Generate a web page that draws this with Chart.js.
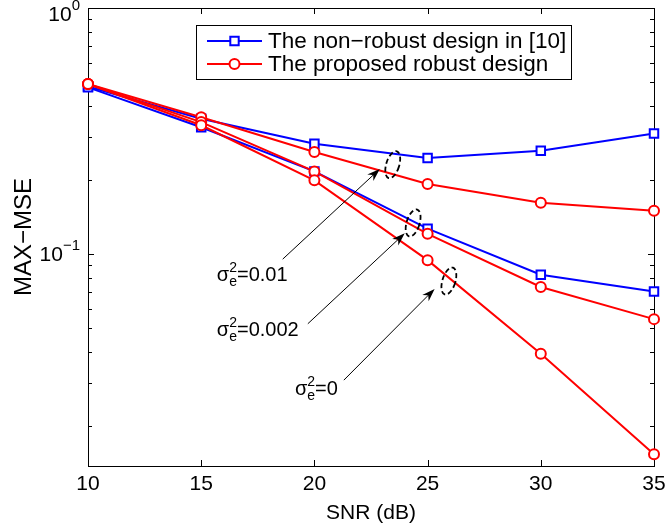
<!DOCTYPE html>
<html>
<head>
<meta charset="utf-8">
<script src="https://cdn.jsdelivr.net/npm/chart.js@4.4.1/dist/chart.umd.min.js"></script>
<style>
  html, body { margin: 0; padding: 0; background: #fff; }
</style>
</head>
<body>
<canvas id="chart" width="668" height="531"></canvas>
<script>
// values (MAX-MSE vs SNR)
const snr = [10, 15, 20, 25, 30, 35]
const nonRobust001 = [0.48, 0.355, 0.281, 0.246, 0.263, 0.309]
const nonRobust0002 = [0.476, 0.328, 0.217, 0.127, 0.0825, 0.0705]
const robust001 = [0.491, 0.36, 0.26, 0.193, 0.162, 0.15]
const robust0002 = [0.491, 0.344, 0.217, 0.121, 0.0736, 0.0545]
const robust0 = [0.491, 0.334, 0.1995, 0.0946, 0.0394, 0.0154]

const xTicks = [10, 15, 20, 25, 30, 35]
const yMajorTicks = [1, 0.1]
const yMajorExp = ['0', '\u22121']
const yMinorTicks = [0.9, 0.8, 0.7, 0.6, 0.5, 0.4, 0.3, 0.2, 0.09, 0.08, 0.07, 0.06, 0.05, 0.04, 0.03, 0.02]

const legendLabels = ['The non\u2212robust design in [10]', 'The proposed robust design']

// sigma_e^2 callouts, in data coordinates
const notes = [
  { value: '0.01', text: [15.69, 0.0778], from: [18.6, 0.0955], to: [22.89, 0.222], ring: [23.46, 0.231] },
  { value: '0.002', text: [15.69, 0.0467], from: [19.71, 0.0522], to: [23.99, 0.1216], ring: [24.36, 0.134] },
  { value: '0', text: [19.14, 0.0268], from: [21.3, 0.0308], to: [25.31, 0.0723], ring: [25.94, 0.0778] }
]

const FONT = '"Liberation Sans", Arial, sans-serif'
const BLUE = '#0000ff'
const RED = '#ff0000'

const toPoints = (vals) => vals.map((v, i) => ({ x: snr[i], y: v }))

function series(vals, color, style) {
  return {
    data: toPoints(vals),
    borderColor: color,
    backgroundColor: '#fff',
    borderWidth: 2,
    pointStyle: style,
    pointRadius: style === 'rect' ? 6 : 5,
    pointBorderWidth: 2,
    pointBackgroundColor: '#fff',
    pointBorderColor: color,
    tension: 0,
    clip: false
  }
}

function drawMarker(ctx, style, x, y, color) {
  ctx.save()
  ctx.fillStyle = '#fff'
  ctx.strokeStyle = color
  ctx.lineWidth = 2
  ctx.beginPath()
  if (style === 'rect') {
    ctx.rect(x - 4.2, y - 4.2, 8.4, 8.4)
  } else {
    ctx.arc(x, y, 5, 0, Math.PI * 2)
  }
  ctx.fill()
  ctx.stroke()
  ctx.restore()
}

function drawArrow(ctx, x1, y1, x2, y2) {
  const a = Math.atan2(y2 - y1, x2 - x1)
  const c = Math.cos(a), s = Math.sin(a)
  ctx.beginPath()
  ctx.moveTo(x1, y1)
  ctx.lineTo(x2 - 8 * c, y2 - 8 * s)
  ctx.stroke()
  ctx.beginPath()
  ctx.moveTo(x2, y2)
  ctx.lineTo(x2 - 13 * c + 4.5 * s, y2 - 13 * s - 4.5 * c)
  ctx.lineTo(x2 - 9 * c, y2 - 9 * s)
  ctx.lineTo(x2 - 13 * c - 4.5 * s, y2 - 13 * s + 4.5 * c)
  ctx.closePath()
  ctx.fill()
}

// axes box, inward ticks and tick labels (matlab style)
const axesBox = {
  id: 'axesBox',
  beforeDatasetsDraw(chart) {
    const { ctx, chartArea: a, scales: { x, y } } = chart
    ctx.save()
    ctx.strokeStyle = '#000'
    ctx.lineWidth = 1
    ctx.strokeRect(a.left + 0.5, a.top + 0.5, a.right - a.left, a.bottom - a.top)

    ctx.beginPath()
    xTicks.forEach(t => {
      const px = Math.round(x.getPixelForValue(t)) + 0.5
      ctx.moveTo(px, a.bottom); ctx.lineTo(px, a.bottom - 6)
      ctx.moveTo(px, a.top); ctx.lineTo(px, a.top + 6)
    })
    yMajorTicks.forEach(t => {
      const py = Math.round(y.getPixelForValue(t)) + 0.5
      ctx.moveTo(a.left, py); ctx.lineTo(a.left + 6, py)
      ctx.moveTo(a.right, py); ctx.lineTo(a.right - 6, py)
    })
    yMinorTicks.forEach(t => {
      const py = Math.round(y.getPixelForValue(t)) + 0.5
      ctx.moveTo(a.left, py); ctx.lineTo(a.left + 4, py)
      ctx.moveTo(a.right, py); ctx.lineTo(a.right - 4, py)
    })
    ctx.stroke()

    ctx.fillStyle = '#000'
    ctx.font = '21px ' + FONT
    ctx.textAlign = 'center'
    ctx.textBaseline = 'middle'
    xTicks.forEach(t => ctx.fillText(String(t), x.getPixelForValue(t), a.bottom + 18))

    yMajorTicks.forEach((t, i) => {
      const py = Math.max(y.getPixelForValue(t) + 1, 15)
      ctx.font = '15px ' + FONT
      const supW = ctx.measureText(yMajorExp[i]).width
      ctx.textAlign = 'left'
      ctx.fillText(yMajorExp[i], a.left - 8 - supW, py - 9)
      ctx.font = '21px ' + FONT
      ctx.textAlign = 'right'
      ctx.fillText('10', a.left - 8 - supW, py)
    })

    ctx.font = '21px ' + FONT
    ctx.textAlign = 'center'
    ctx.fillText('SNR (dB)', (a.left + a.right) / 2, 513)
    ctx.font = '24px ' + FONT
    ctx.translate(24, (a.top + a.bottom) / 2)
    ctx.rotate(-Math.PI / 2)
    ctx.fillText('MAX\u2212MSE', 0, 0)
    ctx.restore()
  },
  afterDatasetsDraw(chart) {
    const { ctx, scales: { x, y } } = chart
    ctx.save()
    ctx.strokeStyle = '#000'
    ctx.fillStyle = '#000'

    notes.forEach(n => {
      // dashed ring round the curves
      ctx.save()
      ctx.lineWidth = 1.8
      ctx.setLineDash([5, 3])
      ctx.beginPath()
      ctx.ellipse(x.getPixelForValue(n.ring[0]), y.getPixelForValue(n.ring[1]), 6.5, 14, 0.3, 0, Math.PI * 2)
      ctx.stroke()
      ctx.restore()

      ctx.lineWidth = 1
      drawArrow(ctx, x.getPixelForValue(n.from[0]), y.getPixelForValue(n.from[1]),
        x.getPixelForValue(n.to[0]), y.getPixelForValue(n.to[1]))

      // sigma_e^2 = value
      let tx = x.getPixelForValue(n.text[0])
      const ty = y.getPixelForValue(n.text[1])
      ctx.textBaseline = 'alphabetic'
      ctx.textAlign = 'left'
      ctx.font = '20px ' + FONT
      ctx.fillText('\u03c3', tx, ty)
      tx += ctx.measureText('\u03c3').width
      ctx.font = '14px ' + FONT
      ctx.fillText('2', tx, ty - 9)
      ctx.fillText('e', tx, ty + 5)
      tx += Math.max(ctx.measureText('2').width, ctx.measureText('e').width)
      ctx.font = '20px ' + FONT
      ctx.fillText('=' + n.value, tx, ty)
    })

    // legend box
    const lx = 196, ly = 25, lw = 375, lh = 54
    ctx.fillStyle = '#fff'
    ctx.fillRect(lx, ly, lw, lh)
    ctx.lineWidth = 1
    ctx.strokeStyle = '#000'
    ctx.strokeRect(lx + 0.5, ly + 0.5, lw, lh)
    const rows = [
      { color: BLUE, style: 'rect', y: 41 },
      { color: RED, style: 'circle', y: 64 }
    ]
    rows.forEach((r, i) => {
      ctx.strokeStyle = r.color
      ctx.lineWidth = 2
      ctx.beginPath()
      ctx.moveTo(lx + 11, r.y)
      ctx.lineTo(lx + 66, r.y)
      ctx.stroke()
      drawMarker(ctx, r.style, lx + 38.5, r.y, r.color)
      ctx.fillStyle = '#000'
      ctx.font = '22.5px ' + FONT
      ctx.textBaseline = 'middle'
      ctx.fillText(legendLabels[i], lx + 72, r.y + 1)
    })
    ctx.restore()
  }
}

const ctx = document.getElementById('chart').getContext('2d')

new Chart(ctx, {
  type: 'line',
  data: {
    // first dataset ends up on top, so the red curves go first
    datasets: [
      series(robust0, RED, 'circle'),
      series(robust0002, RED, 'circle'),
      series(robust001, RED, 'circle'),
      series(nonRobust0002, BLUE, 'rect'),
      series(nonRobust001, BLUE, 'rect')
    ]
  },
  options: {
    responsive: false,
    animation: false,
    devicePixelRatio: 1,
    layout: {
      padding: { left: 88, right: 14, top: 5, bottom: 65 }
    },
    plugins: {
      legend: { display: false },
      tooltip: { enabled: false }
    },
    scales: {
      x: {
        type: 'linear',
        display: false,
        min: 10,
        max: 35
      },
      y: {
        type: 'logarithmic',
        display: false,
        min: 0.0138,
        max: 1
      }
    }
  },
  plugins: [axesBox]
})
</script>
</body>
</html>
